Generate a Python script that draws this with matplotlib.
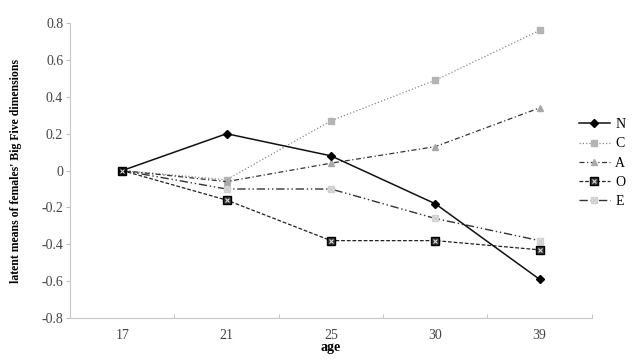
import matplotlib
matplotlib.use("Agg")
import matplotlib.pyplot as plt

plt.rcParams['font.family'] = ['Liberation Serif', 'DejaVu Serif']

ages = ["17", "21", "25", "30", "39"]
N = [0, 0.20, 0.08, -0.18, -0.59]
C = [0, -0.05, 0.27, 0.49, 0.76]
A = [0, -0.06, 0.04, 0.13, 0.34]
O = [0, -0.16, -0.38, -0.38, -0.43]
E = [0, -0.10, -0.10, -0.26, -0.38]
yticks = [-0.8, -0.6, -0.4, -0.2, 0, 0.2, 0.4, 0.6, 0.8]

fig = plt.figure(figsize=(6.37, 3.61), dpi=100)
ax = fig.add_axes([0.11, 0.119, 0.819, 0.817])
x = list(range(len(ages)))

lN, = ax.plot(x, N, color='#111111', lw=1.1, ls='-', marker='D', ms=4,
              mfc='black', mec='black', zorder=5)
lC, = ax.plot(x, C, color='#888888', lw=0.9, ls=':', marker='s', ms=5,
              mfc='#b4b4b4', mec='#b4b4b4', zorder=3)
lA, = ax.plot(x, A, color='#333333', lw=0.9, ls=(0, (4, 2, 1, 2)), marker='^', ms=5,
              mfc='#a8a8a8', mec='#a8a8a8', zorder=3)
lO, = ax.plot(x, O, color='#222222', lw=0.9, ls=(0, (3, 1.5)), marker='s', ms=5.5,
              mfc='#333333', mec='black', zorder=4)
oX, = ax.plot(x, O, ls='none', marker='x', ms=3.5, mew=0.8, color='#dddddd', zorder=6)
lE, = ax.plot(x, E, color='#333333', lw=1.0, ls=(0, (6, 2, 1, 2, 1, 2)), marker='s', ms=5,
              mfc='#e4e4e4', mec='#d0d0d0', zorder=3)
eX, = ax.plot(x, E, ls='none', marker='x', ms=3, mew=0.6, color='#c0c0c0', zorder=4)

ax.set_xlim(-0.5, 4.5)
ax.set_ylim(-0.8, 0.8)
ax.set_yticks(yticks)
ax.set_yticklabels(["%g" % v if v != 0 else "0" for v in yticks])
ax.set_xticks(x)
ax.set_xticklabels(ages)
ax.set_xticks([i + 0.5 for i in range(-1, 5)], minor=True)
ax.tick_params(axis='x', which='major', length=0, pad=8, labelsize=10, colors='#444444')
ax.tick_params(axis='x', which='minor', length=3, color='#bbbbbb', direction='in')
ax.tick_params(axis='y', length=3, color='#bbbbbb', labelsize=10, colors='#444444', pad=2)
for s in ['top', 'right']:
    ax.spines[s].set_visible(False)
for s in ['left', 'bottom']:
    ax.spines[s].set_color('#c8c8c8')

ax.set_xlabel('age', fontweight='bold', fontsize=10, labelpad=-1)
ax.set_ylabel("latent means of females' Big Five dimensions", fontweight='bold',
              fontsize=8.5, labelpad=14)

leg = fig.legend([lN, lC, lA, (lO, oX), (lE, eX)], ['N', 'C', 'A', 'O', 'E'],
                 loc='center left', bbox_to_anchor=(0.909, 0.548), frameon=False,
                 fontsize=10, handlelength=2.2, labelspacing=0.45, handletextpad=0.4,
                 borderaxespad=0, borderpad=0)

fig.savefig('out.png', dpi=100)
